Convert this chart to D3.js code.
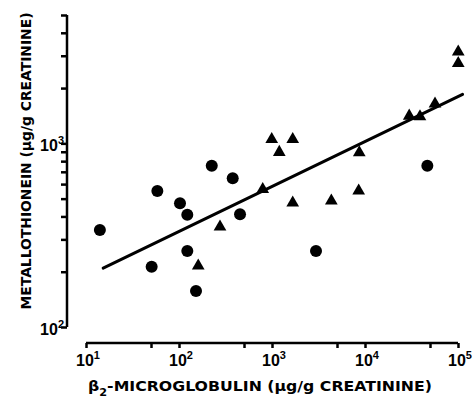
<!DOCTYPE html>
<html><head><meta charset="utf-8">
<script src="https://cdn.jsdelivr.net/npm/d3@7"></script>
<style>body{margin:0;background:#fff}svg{display:block}text{font-family:"DejaVu Sans","Liberation Sans",Arial,sans-serif;font-weight:bold;fill:#000}text.tick{font-family:"Liberation Sans",Arial,sans-serif}</style>
</head><body>
<script>
// Cadmium workers: circles and triangles (two groups)
const circleX = [14.1, 50.8, 58.5, 102.5, 122.8, 122.8, 152.4, 225, 378, 453, 2972, 46800];
const circleY = [337, 213, 550, 472, 409, 259, 157, 756, 646, 411, 259, 756];
const triX = [161, 276, 795, 993, 1198, 1670, 1670, 4345, 8550, 8680, 29900, 39000, 56600, 100600, 100600];
const triY = [215, 351, 562, 1052, 895, 1052, 475, 486, 552, 890, 1410, 1397, 1640, 2730, 3155];
// regression line end points
const lineX = [15.3, 112000];
const lineY = [209, 1850];
const xTickExp = [1, 2, 3, 4, 5];
const yTickExp = [2, 3];
const xTitle = ["β", "2", "-MICROGLOBULIN (μg/g CREATININE)"];
const yTitle = "METALLOTHIONEIN (μg/g CREATININE)";

const W = 476, H = 403;
const svg = d3.select("body").append("svg").attr("width", W).attr("height", H);
const x = d3.scaleLog().domain([10, 1e5]).range([86, 458]);
const y = d3.scaleLog().domain([100, 5000]).range([327, 15]);

// X axis
const xTicks = [];
xTickExp.forEach((e, i) => { xTicks.push(Math.pow(10, e)); if (i < xTickExp.length - 1) xTicks.push(5 * Math.pow(10, e)); });
const gx = svg.append("g").attr("transform", "translate(0,343)")
  .call(d3.axisBottom(x).tickValues(xTicks).tickFormat("").tickSizeInner(5).tickSizeOuter(0));
gx.selectAll("path,line").attr("stroke", "#000").attr("stroke-width", 2.5);
gx.selectAll("path").attr("d", `M${x(10)},0H${x(1e5)}`);
xTickExp.forEach(e => {
  const t = svg.append("text").attr("class", "tick").attr("x", x(Math.pow(10, e)) + 2).attr("y", 366).attr("text-anchor", "middle").style("font-size", "16px");
  t.append("tspan").text("10");
  t.append("tspan").attr("dy", -7).style("font-size", "11px").text(e);
});

// Y axis
const gy = svg.append("g").attr("transform", "translate(67,0)")
  .call(d3.axisLeft(y).ticks(10).tickFormat("").tickSizeInner(6).tickSizeOuter(0));
gy.selectAll("path,line").attr("stroke", "#000").attr("stroke-width", 2.5);
gy.selectAll("path").attr("d", `M0,${y(100)}V${y(5000)}`);
yTickExp.forEach(e => {
  const t = svg.append("text").attr("class", "tick").attr("x", 64).attr("y", y(Math.pow(10, e)) + 8).attr("text-anchor", "end").style("font-size", "16px");
  t.append("tspan").text("10");
  t.append("tspan").attr("dy", -7).style("font-size", "11px").text(e);
});

// Titles
const xt = svg.append("text").attr("x", 88).attr("y", 391).attr("textLength", 344).attr("lengthAdjust", "spacingAndGlyphs").style("font-size", "14px");
xt.append("tspan").text(xTitle[0]);
xt.append("tspan").attr("dy", 5).style("font-size", "10px").text(xTitle[1]);
xt.append("tspan").attr("dy", -5).text(xTitle[2]);
svg.append("text").attr("transform", "translate(31,161) rotate(-90)").attr("text-anchor", "middle")
  .attr("textLength", 297).attr("lengthAdjust", "spacingAndGlyphs")
  .style("font-size", "14px").text(yTitle);

// Regression line
svg.append("line").attr("x1", x(lineX[0])).attr("y1", y(lineY[0])).attr("x2", x(lineX[1])).attr("y2", y(lineY[1]))
  .attr("stroke", "#000").attr("stroke-width", 3).attr("stroke-linecap", "round");

// Circles
svg.append("g").selectAll("circle").data(circleX.map((d, i) => [d, circleY[i]])).join("circle")
  .attr("cx", d => x(d[0])).attr("cy", d => y(d[1])).attr("r", 6).attr("fill", "#000");
// Triangles
const tri = d3.symbol().type(d3.symbolTriangle).size(70);
svg.append("g").selectAll("path").data(triX.map((d, i) => [d, triY[i]])).join("path")
  .attr("d", tri).attr("transform", d => `translate(${x(d[0])},${y(d[1])})`).attr("fill", "#000");
</script>
</body></html>
